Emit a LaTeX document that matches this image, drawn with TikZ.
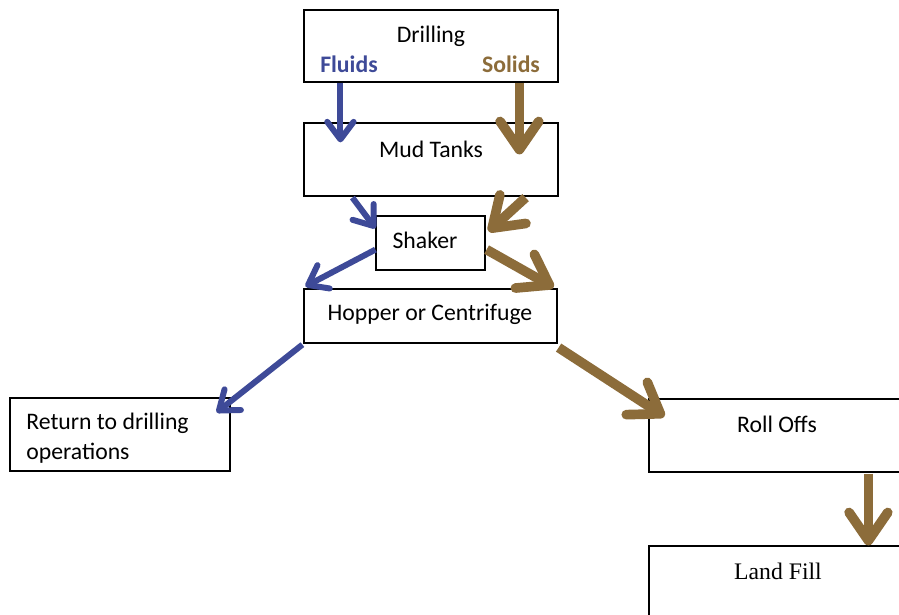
\documentclass[tikz,border=0pt]{standalone}
\usepackage{fontspec}
\setmainfont{Carlito}
\newfontfamily\timesfont{Liberation Serif}
\usetikzlibrary{arrows.meta}
\definecolor{fluidblue}{RGB}{62,74,152}
\definecolor{solidbrown}{RGB}{140,108,58}

\begin{document}
\begin{tikzpicture}[x=0.02cm, y=-0.02cm]
	\tikzstyle{every node}=[inner sep=0pt, font=\fontsize{13.5}{17}\selectfont]
	\tikzstyle{box}=[draw, line width=0.7pt, rectangle]
	\tikzstyle{fluidarrow}=[fluidblue, line width=3.4pt, -{Straight Barb[length=10pt, width=15pt, round]}]
	\tikzstyle{solidarrow}=[solidbrown, line width=5.5pt, -{Straight Barb[length=16pt, width=22pt, round]}]
	\useasboundingbox (0,0) rectangle (899,615);
	\clip (0,0) rectangle (899,615);
	% boxes
	\node (drill) [box, minimum width=5.08cm, minimum height=1.44cm] at (431,46) {};
	\node (mud) [box, minimum width=5.08cm, minimum height=1.46cm] at (431,159.5) {};
	\node (shaker) [box, minimum width=2.18cm, minimum height=1.08cm] at (430.5,243) {};
	\node (hopper) [box, minimum width=5.06cm, minimum height=1.08cm] at (430.5,316) {};
	\node (ret) [box, minimum width=4.4cm, minimum height=1.46cm] at (120,434.5) {};
	\node (roll) [box, minimum width=5.12cm, minimum height=1.46cm] at (777,435.5) {};
	\node (land) [box, minimum width=5.12cm, minimum height=1.46cm] at (777,582.5) {};
	% texts
	\draw (431,36) node (drilltxt) {Drilling};
	\draw (349,64) node (fluids) [text=fluidblue] {\bfseries Fluids};
	\draw (511,64) node (solids) [text=solidbrown] {\bfseries Solids};
	\draw (431,149) node (mudtxt) {Mud Tanks};
	\draw (425,240) node (shakertxt) {Shaker};
	\draw (430,314) node (hoppertxt) {Hopper or Centrifuge};
	\draw (26,438) node (rettxt) [anchor=west, align=left] {Return to drilling\\operations};
	\draw (777,424) node (rolltxt) {Roll Offs};
	\draw (778,571) node (landtxt) {\timesfont Land Fill};
	% fluids
	\draw[fluidarrow] ([shift={(37,0)}]drill.south west) -- ([shift={(37,20)}]mud.north west);
	\draw[fluidarrow] ([shift={(49,1)}]mud.south west) -- ([shift={(0,13)}]shaker.north west);
	\draw[fluidarrow] ([shift={(0,-21)}]shaker.south west) -- ([shift={(2,-2)}]hopper.north west);
	\draw[fluidarrow] ([shift={(-1,1)}]hopper.south west) -- ([shift={(-14,15)}]ret.north east);
	% solids
	\draw[solidarrow] ([shift={(216,0)}]drill.south west) -- ([shift={(216,32)}]mud.north west);
	\draw[solidarrow] ([shift={(-33,1)}]mud.south east) -- ([shift={(3,16)}]shaker.north east);
	\draw[solidarrow] ([shift={(1,-21)}]shaker.south east) -- ([shift={(-4,-1)}]hopper.north east);
	\draw[solidarrow] ([shift={(1,4)}]hopper.south east) -- ([shift={(16,18)}]roll.north west);
	\draw[solidarrow] ([shift={(220,1)}]roll.south west) -- ([shift={(220,0)}]land.north west);
\end{tikzpicture}
\end{document}
